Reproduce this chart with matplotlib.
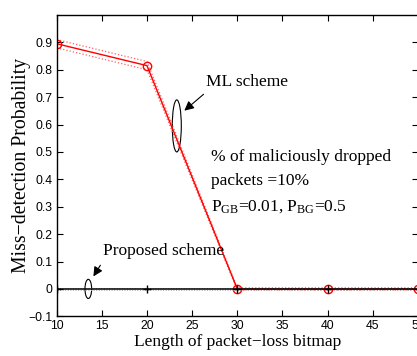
import numpy as np
import matplotlib.pyplot as plt
from matplotlib.patches import Ellipse

# bitmap lengths
bitmap_len = [10, 20, 30, 40, 50]

# ML scheme (red) with dotted bounds
ml_prob = [0.895, 0.815, 0.0, 0.0, 0.0]
ml_upper = [0.91, 0.83, 0.004, 0.004, 0.004]
ml_lower = [0.88, 0.80, -0.004, -0.004, -0.004]

# proposed scheme (black) with dotted bounds
prop_prob = [0.0, 0.0, 0.0, 0.0, 0.0]
prop_upper = [0.003, 0.003, 0.003, 0.003, 0.003]
prop_lower = [-0.003, -0.003, -0.003, -0.003, -0.003]

x_ticks = [10, 15, 20, 25, 30, 35, 40, 45, 50]
y_ticks = [-0.1, 0, 0.1, 0.2, 0.3, 0.4, 0.5, 0.6, 0.7, 0.8, 0.9]
y_tick_labels = ['\u22120.1', '0', '0.1', '0.2', '0.3', '0.4', '0.5', '0.6', '0.7', '0.8', '0.9']

serif = 'Liberation Serif'
sans = 'Liberation Sans'

plt.rcParams['mathtext.fontset'] = 'custom'
plt.rcParams['mathtext.rm'] = serif
plt.rcParams['mathtext.it'] = serif + ':italic'

fig = plt.figure(figsize=(4.17, 3.56), dpi=100)
ax = fig.add_axes([0.136, 0.1115, 0.866, 0.8465])

ax.plot(bitmap_len, ml_upper, ':', color='#ff6060', lw=0.9)
ax.plot(bitmap_len, ml_lower, ':', color='#ff6060', lw=0.9)
ax.plot(bitmap_len, ml_prob, '-', color='red', lw=1.0,
        marker='o', markersize=6, markerfacecolor='none', markeredgecolor='red')

ax.plot(bitmap_len, prop_upper, ':', color='#aaaaaa', lw=0.7)
ax.plot(bitmap_len, prop_lower, ':', color='#aaaaaa', lw=0.7)
ax.plot(bitmap_len, prop_prob, '-', color='black', lw=1.1,
        marker='+', markersize=6, markeredgecolor='black')

ax.set_xlim(10, 50)
ax.set_ylim(-0.1, 1.0)
ax.set_xticks(x_ticks)
ax.set_xticklabels([str(v) for v in x_ticks], fontsize=8.8, family=sans)
ax.set_yticks(y_ticks)
ax.set_yticklabels(y_tick_labels, fontsize=8.8, family=sans)
ax.tick_params(direction='in', top=True, right=True, length=4, width=0.8, pad=3)
for s in ax.spines.values():
    s.set_linewidth(1.0)

ax.set_xlabel('Length of packet\u2212loss bitmap', fontsize=12.5, family=serif, labelpad=1)
ax.set_ylabel('Miss\u2212detection Probability', fontsize=14.2, family=serif, labelpad=-1.5)

# ellipses + arrows
ax.add_patch(Ellipse((23.3, 0.595), 1.0, 0.19, fill=False, ec='black', lw=0.8))
ax.add_patch(Ellipse((13.5, 0.0), 0.74, 0.07, fill=False, ec='black', lw=0.8))

ax.annotate('', xy=(23.9, 0.644), xytext=(26.5, 0.717),
            arrowprops=dict(arrowstyle='-|>', color='black', lw=0.8, mutation_scale=14))
ax.annotate('', xy=(13.9, 0.037), xytext=(15.0, 0.095),
            arrowprops=dict(arrowstyle='-|>', color='black', lw=0.8, mutation_scale=14))

ax.text(26.5, 0.757, 'ML scheme', fontsize=12.5, family=serif, va='center', ha='left')
ax.text(15.1, 0.14, 'Proposed scheme', fontsize=12.5, family=serif, va='center', ha='left')

ax.text(27.05, 0.48, '% of maliciously dropped', fontsize=12.5, family=serif, va='center')
ax.text(27.05, 0.395, 'packets =10%', fontsize=12.5, family=serif, va='center')
ax.text(27.05, 0.30, r'P$_{\mathrm{GB}}$=0.01, P$_{\mathrm{BG}}$=0.5', fontsize=12.5, family=serif, va='center')

fig.savefig('out.png', dpi=100)
